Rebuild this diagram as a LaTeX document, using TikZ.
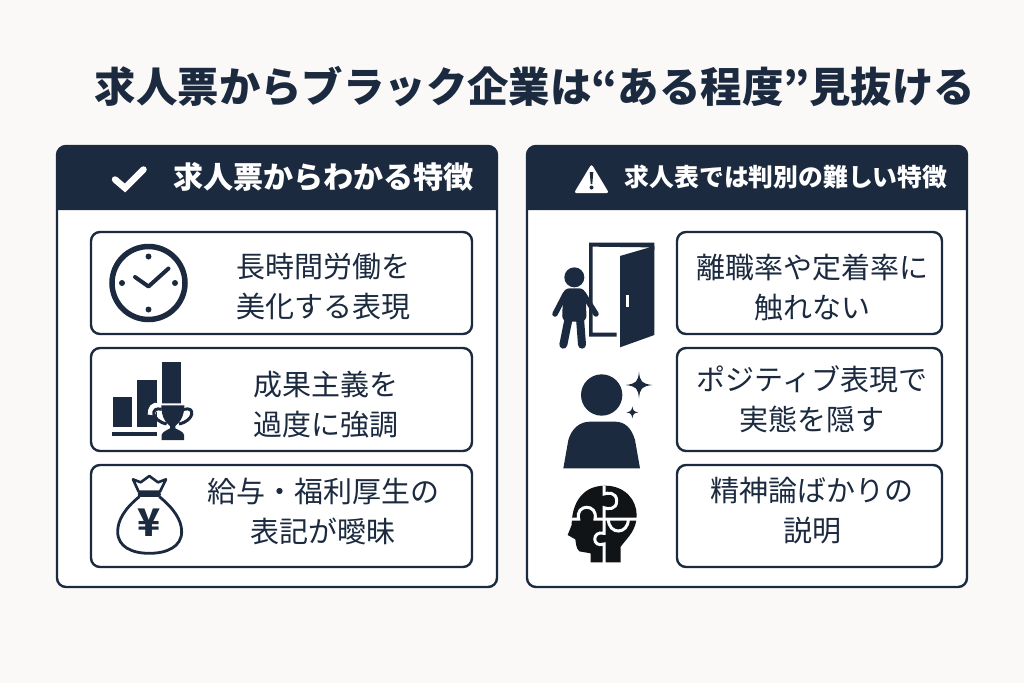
\documentclass[tikz,border=0pt]{standalone}
\usepackage{fontspec}
\setmainfont{Noto Sans CJK JP}
\usetikzlibrary{positioning}
\definecolor{navy}{HTML}{1B2A3F}
\definecolor{paper}{HTML}{FBF9F7}
\definecolor{puzzle}{HTML}{111416}
\tikzset{
    panelbox/.style={draw=navy,line width=2.4pt,fill=white,rounded corners=9pt,minimum width=440pt,minimum height=441pt},
    rowbox/.style={draw=navy,line width=2.4pt,fill=white,rounded corners=9pt},
    rowtext/.style={text=navy,align=center,inner sep=0pt,font=\fontsize{29}{40}\selectfont},
    headtext/.style={text=white,font=\bfseries\fontsize{#1}{#1}\selectfont,inner sep=0pt},
    icon/.style={fill=navy,draw=none}
}
\begin{document}
\begin{tikzpicture}[x=1pt,y=-1pt]
    \useasboundingbox (0,0) rectangle (1024,683);
    \fill[paper] (0,0) rectangle (1024,683);
    \node[text=navy,font=\bfseries\fontsize{41.4}{42}\selectfont,inner sep=0pt] at (535,87) (title) {求人票からブラック企業は“ある程度”見抜ける};

    \node[panelbox] at (277,366.5) (leftpanel) {};
    \node[panelbox] at (747,366.5) (rightpanel) {};
    \fill[navy] (57,210) [rounded corners=9pt] -- (57,146) -- (497,146) [sharp corners] -- (497,210) -- cycle;
    \fill[navy] (527,210) [rounded corners=9pt] -- (527,146) -- (967,146) [sharp corners] -- (967,210) -- cycle;
    \node[headtext=30.1] at (323.5,177) (lefthead) {求人票からわかる特徴};
    \node[headtext=24.8] at (786,177) (righthead) {求人表では判別の難しい特徴};

    \draw[white,line width=6.5pt,line cap=round] (115,179.5) -- (125,188) -- (143.5,169.5);
    \fill[white,rounded corners=2.5pt] (591.5,164) -- (609,193) -- (574,193) -- cycle;
    \fill[navy] (589.7,172) -- (593.3,172) -- (592.3,184) -- (590.7,184) -- cycle;
    \fill[navy] (591.5,187.5) circle (2pt);

    \node[rowbox,minimum width=381pt,minimum height=102pt] at (281.5,283) (longhours) {};
    \node[rowbox,minimum width=381pt,minimum height=103pt] at (281.5,399.5) (results) {};
    \node[rowbox,minimum width=381pt,minimum height=102pt] at (281.5,516) (salary) {};
    \node[rowbox,minimum width=265pt,minimum height=102pt] at (809.5,283) (turnover) {};
    \node[rowbox,minimum width=265pt,minimum height=103pt] at (809.5,399.5) (positive) {};
    \node[rowbox,minimum width=265pt,minimum height=102pt] at (809.5,516) (spirit) {};

    \node[rowtext] at (323,287) (longhourstext) {長時間労働を\\美化する表現};
    \node[rowtext] at (326,405) (resultstext) {成果主義を\\過度に強調};
    \node[rowtext] at (323,511.5) (salarytext) {給与・福利厚生の\\表記が曖昧};
    \node[rowtext] at (812,287) (turnovertext) {離職率や定着率に\\触れない};
    \node[rowtext] at (812,399) (positivetext) {ポジティブ表現で\\実態を隠す};
    \node[rowtext] at (812,511) (spirittext) {精神論ばかりの\\説明};

    \begin{scope}[shift={(148.5,283)}]
        \draw[navy,line width=5.5pt] (0,0) circle (36.5pt);
        \foreach \a in {0,90,180,270}
            \fill[navy] (\a:26.5pt) circle (3pt);
        \draw[navy,line width=4pt,line cap=round,line join=round] (-13.5,-6) -- (0,3.5) -- (20,-14.5);
    \end{scope}

    \begin{scope}[shift={(50,340)},scale=1/3]
        \fill[icon] (190,172) rectangle (245,262);
        \fill[icon] (262,120) rectangle (320,262);
        \fill[icon] (335,65) rectangle (393,200);
        \fill[icon] (185,275) rectangle (322,287);
        \draw[white,line width=8pt] (305,225) .. controls (305,185) and (340,195) .. (345,250) (432,225) .. controls (432,185) and (397,195) .. (392,250);
        \fill[white] (325,190) -- (412,190) -- (400,250) -- (368,272) -- (340,250) -- cycle;
        \draw[navy,line width=3pt] (335,208) .. controls (300,198) and (303,242) .. (350,252);
        \draw[navy,line width=3pt] (402,208) .. controls (437,198) and (434,242) .. (387,252);
        \fill[icon] (334,196) -- (403,196) .. controls (403,235) and (385,250) .. (376,258) -- (376,265) .. controls (385,270) and (400,275) .. (402,284) -- (402,300) -- (335,300) -- (335,284) .. controls (338,275) and (352,270) .. (360,265) -- (360,258) .. controls (350,250) and (334,235) .. (334,196) -- cycle;
    \end{scope}

    \begin{scope}[shift={(50,340)},scale=1/3]
        \draw[navy,line width=2.6pt,line join=round,fill=white] (249,418) -- (272,427) -- (298,408) -- (324,427) -- (348,418) -- (330,455) -- (266,455) -- cycle;
        \draw[navy,line width=2.8pt,fill=white] (268,470) .. controls (225,505) and (203,540) .. (203,575) .. controls (203,620) and (245,640) .. (298,640) .. controls (351,640) and (395,620) .. (395,575) .. controls (395,540) and (371,505) .. (328,470);
        \draw[navy,line width=4.5pt,line cap=round] (270,464) -- (326,464);
        \node[text=navy,font=\bfseries\fontsize{38}{38}\selectfont,inner sep=0pt] at (298,548) (yen) {¥};
    \end{scope}

    \begin{scope}[shift={(520,140)},scale=1/3]
        \fill[icon] (207,308) -- (403,308) -- (403,330) -- (385,322) -- (218,320) -- (218,578) -- (290,578) -- (290,590) -- (207,590) -- cycle;
        \fill[icon] (300,348) -- (403,318) -- (403,585) -- (300,622) -- cycle;
        \fill[white] (318,465) rectangle (326,502);
        \fill[icon] (163,412) circle (30pt);
        \fill[icon,rounded corners=6pt] (130,445) -- (196,445) -- (200,545) -- (126,545) -- cycle;
        \draw[navy,line width=5.5pt,line cap=round] (136,462) -- (105,522);
        \draw[navy,line width=5.5pt,line cap=round] (190,462) -- (228,522);
        \draw[navy,line width=8pt,line cap=round] (146,535) -- (130,614);
        \draw[navy,line width=8pt,line cap=round] (180,535) -- (186,614);
    \end{scope}

    \begin{scope}[shift={(520,340)},scale=1/3]
        \fill[icon] (245,165) circle (62pt);
        \fill[icon] (130,385) -- (145,300) .. controls (155,265) and (180,245) .. (210,245) -- (285,245) .. controls (315,245) and (335,265) .. (345,300) -- (360,385) -- cycle;
        \fill[icon] (357,95) .. controls (360,125) and (365,131) .. (397,135) .. controls (365,139) and (360,145) .. (357,175) .. controls (354,145) and (349,139) .. (317,135) .. controls (349,131) and (354,125) .. (357,95) -- cycle;
        \fill[icon] (337,199) .. controls (339,212) and (342,215) .. (355,217) .. controls (342,219) and (339,222) .. (337,235) .. controls (335,222) and (332,219) .. (319,217) .. controls (332,215) and (335,212) .. (337,199) -- cycle;
    \end{scope}

    \begin{scope}[shift={(520,340)},scale=1/3]
        \fill[puzzle] (212,667) -- (212,640) -- (178,634) .. controls (168,625) and (168,610) .. (166,598) -- (143,585) -- (155,555) .. controls (155,500) and (180,437) .. (255,437) .. controls (315,437) and (350,480) .. (350,525) .. controls (350,570) and (325,590) .. (302,620) -- (302,667) -- cycle;
        \draw[white,line width=3pt] (252,437) -- (252,462) .. controls (262,458) and (290,455) .. (290,483) .. controls (290,510) and (262,508) .. (252,503) -- (252,537);
        \draw[white,line width=3pt] (145,537) -- (176,537) .. controls (165,490) and (235,490) .. (225,537) -- (352,537);
        \draw[white,line width=3pt] (252,537) -- (252,580) .. controls (215,570) and (215,625) .. (252,612) -- (252,670);
        \draw[white,line width=3pt] (265,537) .. controls (265,585) and (325,585) .. (325,537);
    \end{scope}
\end{tikzpicture}
\end{document}
